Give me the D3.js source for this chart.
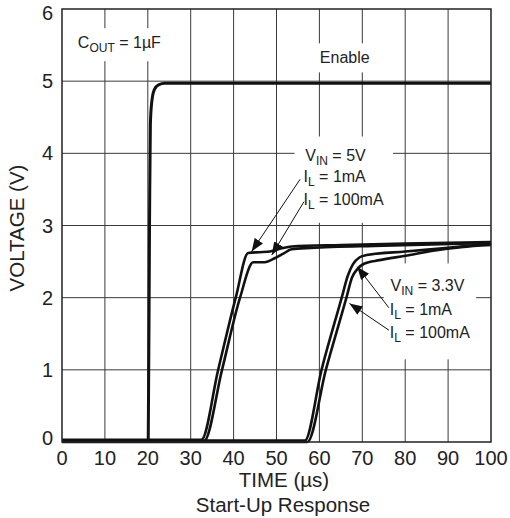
<!DOCTYPE html>
<html>
<head>
<meta charset="utf-8">
<script src="https://cdn.jsdelivr.net/npm/d3@7"></script>
<style>
  body { margin: 0; background: #fff; }
  svg { display: block; font-family: "Liberation Sans", Arial, sans-serif; }
</style>
</head>
<body>
<div id="chart"></div>
<script>
// axis ticks
const xTicks = [0, 10, 20, 30, 40, 50, 60, 70, 80, 90, 100];
const yTicks = [0, 1, 2, 3, 4, 5, 6];

// traces, [time us, volts]
const enable = [[0, 0.01], [20.1, 0.01], [20.4, 3.0], [20.6, 4.4], [20.9, 4.7], [21.5, 4.88], [22.5, 4.95], [24, 4.97], [100, 4.97]];
const vin5_1mA = [[0, 0.03], [32.5, 0.03], [36.4, 1], [40.5, 2], [43.4, 2.62], [46, 2.63], [48.5, 2.64], [51, 2.68], [53.5, 2.71], [65, 2.73], [80, 2.75], [100, 2.77]];
const vin5_100mA = [[0, 0.01], [33.1, 0.01], [37.3, 1], [41.5, 2], [44.6, 2.49], [47.2, 2.49], [49.7, 2.55], [51.6, 2.61], [53.5, 2.67], [58, 2.69], [75, 2.72], [100, 2.76]];
const vin33_1mA = [[0, 0.02], [56.6, 0.02], [60.5, 1], [65.2, 2], [66.6, 2.3], [67.8, 2.46], [69.4, 2.56], [71, 2.59], [80, 2.64], [90, 2.69], [100, 2.75]];
const vin33_100mA = [[0, 0], [57.2, 0], [61.5, 1], [66.3, 2], [67.6, 2.28], [68.9, 2.4], [70.4, 2.47], [74, 2.52], [80, 2.58], [86.5, 2.65], [93, 2.7], [100, 2.73]];

const width = 510, height = 518;
const margin = { top: 9, right: 19, bottom: 76, left: 62 };

const svg = d3.select("#chart").append("svg")
    .attr("width", width)
    .attr("height", height);

const x = d3.scaleLinear().domain([0, 100]).range([margin.left, width - margin.right]);
const y = d3.scaleLinear().domain([0, 6]).range([height - margin.bottom, margin.top]);

svg.append("defs").append("marker")
    .attr("id", "arrow")
    .attr("markerUnits", "userSpaceOnUse")
    .attr("markerWidth", 13).attr("markerHeight", 10)
    .attr("refX", 13).attr("refY", 5)
    .attr("orient", "auto")
    .append("path")
    .attr("d", "M0,0L13,5L0,10Z")
    .attr("fill", "#111");

// grid
const grid = svg.append("g").attr("stroke", "#3a3a3a").attr("stroke-width", 1);
grid.selectAll("line.v").data(xTicks.slice(1, -1)).join("line")
    .attr("x1", d => x(d)).attr("x2", d => x(d))
    .attr("y1", y(0)).attr("y2", y(6));
grid.selectAll("line.h").data(yTicks.slice(1, -1)).join("line")
    .attr("x1", x(0)).attr("x2", x(100))
    .attr("y1", d => y(d)).attr("y2", d => y(d));

// tick labels
svg.append("g").selectAll("text").data(xTicks).join("text")
    .attr("x", d => x(d)).attr("y", y(0) + 23)
    .attr("text-anchor", "middle")
    .attr("font-size", 20).attr("fill", "#222")
    .text(d => d);
svg.append("g").selectAll("text").data(yTicks).join("text")
    .attr("x", x(0) - 9).attr("y", d => y(d) + (d === 0 ? 3 : d === 6 ? 11 : 7))
    .attr("text-anchor", "end")
    .attr("font-size", 20).attr("fill", "#222")
    .text(d => d);

svg.append("text")
    .attr("x", 284).attr("y", 487)
    .attr("text-anchor", "middle").attr("font-size", 20.5).attr("fill", "#222")
    .text("TIME (µs)");
svg.append("text")
    .attr("x", 283).attr("y", 512)
    .attr("text-anchor", "middle").attr("font-size", 20.5).attr("fill", "#222")
    .text("Start-Up Response");
svg.append("text")
    .attr("transform", "translate(24,228) rotate(-90)")
    .attr("text-anchor", "middle").attr("font-size", 20.5).attr("fill", "#222")
    .text("VOLTAGE (V)");

// annotation text blocks, in data units: [time, volts] of left / middle of each line
const blocks = [
    { pad: [6, 6], lines: [{ t: 3.7, v: 5.54, parts: [["C"], ["OUT", 1], [" = 1µF"]] }] },
    { pad: [6, 6], lines: [{ t: 60.1, v: 5.33, parts: [["Enable"]] }] },
    { pad: [9, 11], lines: [
        { t: 56.7, v: 3.97, parts: [["V"], ["IN", 1], [" = 5V"]] },
        { t: 56.3, v: 3.69, parts: [["I"], ["L", 1], [" = 1mA"]] },
        { t: 56.3, v: 3.37, parts: [["I"], ["L", 1], [" = 100mA"]] }] },
    { pad: [6, 14], lines: [
        { t: 76.6, v: 2.17, parts: [["V"], ["IN", 1], [" = 3.3V"]] },
        { t: 76.4, v: 1.84, parts: [["I"], ["L", 1], [" = 1mA"]] },
        { t: 76.4, v: 1.52, parts: [["I"], ["L", 1], [" = 100mA"]] }] }
];

// arrows: from [t, v] to [t, v]
const arrows = [
    [[55.5, 3.64], [44.2, 2.64]],
    [[56.4, 3.33], [48.9, 2.59]],
    [[76.2, 1.86], [68.8, 2.43]],
    [[76.2, 1.55], [67.0, 1.92]]
];

const boxLayer = svg.append("g");
const traceLayer = svg.append("g");
const noteLayer = svg.append("g");

blocks.forEach(b => {
    const g = noteLayer.append("g");
    b.lines.forEach(l => {
        const txt = g.append("text")
            .attr("x", x(l.t)).attr("y", y(l.v) + 6)
            .attr("font-size", 16).attr("fill", "#222");
        let shifted = false;
        l.parts.forEach(p => {
            const ts = txt.append("tspan").text(p[0]);
            if (p[1]) {
                ts.attr("font-size", 12).attr("dy", 4);
                shifted = true;
            } else if (shifted) {
                ts.attr("dy", -4);
                shifted = false;
            }
        });
    });
    const bb = g.node().getBBox();
    boxLayer.append("rect")
        .attr("x", bb.x - b.pad[0]).attr("y", bb.y - b.pad[1])
        .attr("width", bb.width + 2 * b.pad[0]).attr("height", bb.height + 2 * b.pad[1])
        .attr("fill", "#fff");
});

noteLayer.selectAll("line.arrow").data(arrows).join("line")
    .attr("x1", d => x(d[0][0])).attr("y1", d => y(d[0][1]))
    .attr("x2", d => x(d[1][0])).attr("y2", d => y(d[1][1]))
    .attr("stroke", "#111").attr("stroke-width", 1)
    .attr("marker-end", "url(#arrow)");

// traces
const line = d3.line()
    .x(d => x(d[0]))
    .y(d => y(d[1]))
    .curve(d3.curveMonotoneX);

traceLayer.selectAll("path")
    .data([vin5_1mA, vin5_100mA, vin33_1mA, vin33_100mA, enable])
    .join("path")
    .attr("d", line)
    .attr("fill", "none")
    .attr("stroke", "#111")
    .attr("stroke-width", (d, i) => i === 4 ? 3 : 2.6)
    .attr("stroke-linejoin", "round");

// frame
svg.append("rect")
    .attr("x", x(0)).attr("y", y(6))
    .attr("width", x(100) - x(0)).attr("height", y(0) - y(6))
    .attr("fill", "none").attr("stroke", "#222").attr("stroke-width", 1.5);
</script>
</body>
</html>
